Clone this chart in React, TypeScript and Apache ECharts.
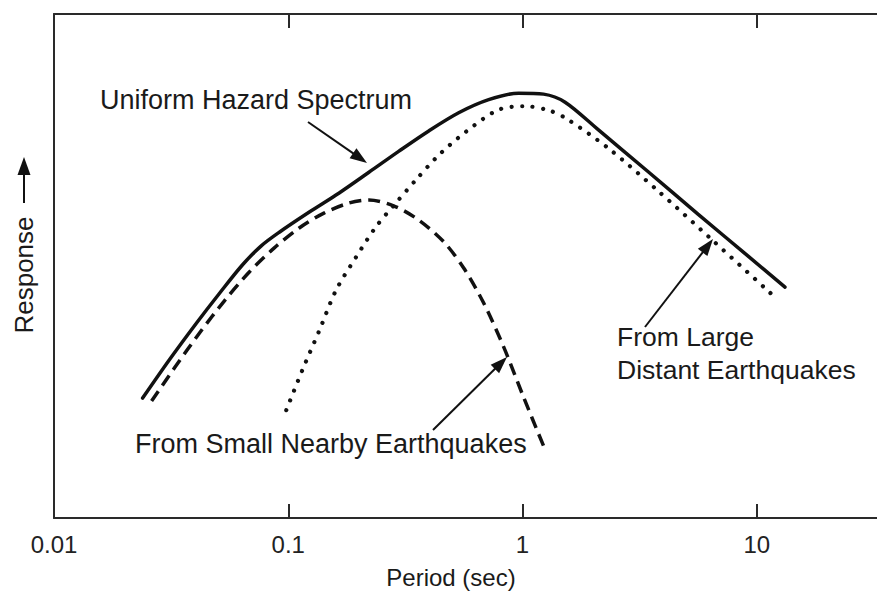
import React, { useEffect, useRef } from "react";
import * as echarts from "echarts";

// Period axis (log) range and tick values
const periodMin = 0.01;
const periodMax = 100;
const tickValues = [0.01, 0.1, 1, 10];

// Uniform Hazard Spectrum (solid)
const uhsPeriod = [0.0239, 0.0312, 0.0406, 0.0509, 0.0637, 0.0767, 0.0916, 0.123, 0.165, 0.221, 0.297, 0.398, 0.534, 0.717, 0.962, 1.23, 1.52, 2.11, 3.44, 5.61, 9.16, 13.2];
const uhsResp = [23.8, 31.5, 38.7, 44.6, 50.2, 54.0, 56.7, 60.7, 64.5, 68.6, 72.8, 76.8, 80.4, 83.0, 84.3, 84.1, 82.5, 77.0, 68.7, 60.3, 52.0, 45.8];

// From Small Nearby Earthquakes (dashed)
const nearPeriod = [0.0261, 0.0327, 0.0418, 0.0534, 0.0682, 0.0872, 0.111, 0.142, 0.182, 0.221, 0.283, 0.361, 0.461, 0.561, 0.682, 0.83, 1.01, 1.23];
const nearResp = [23.2, 29.8, 36.7, 43.1, 48.8, 53.6, 57.5, 60.5, 62.5, 63.1, 61.9, 59.1, 54.8, 49.6, 42.7, 34.0, 24.0, 14.3];

// From Large Distant Earthquakes (dotted)
const farPeriod = [0.0981, 0.115, 0.136, 0.16, 0.195, 0.237, 0.288, 0.351, 0.439, 0.572, 0.79, 1.03, 1.29, 1.52, 2.32, 3.79, 6.37, 11.9];
const farResp = [21.4, 29.4, 37.3, 45.2, 51.8, 57.8, 62.5, 67.1, 72.0, 76.6, 81.0, 81.7, 80.9, 79.4, 73.4, 64.9, 55.4, 43.9];

const FONT = "'Liberation Sans', Arial, Helvetica, sans-serif";
const INK = "#111";
const AXIS = "#2a2a2a";

function zip(xs: number[], ys: number[]) {
  return xs.map((x, i) => [x, ys[i]]);
}

function arrow(x1: number, y1: number, x2: number, y2: number, L = 17, W = 12) {
  const dx = x2 - x1;
  const dy = y2 - y1;
  const len = Math.hypot(dx, dy);
  const ux = dx / len;
  const uy = dy / len;
  const bx = x2 - ux * L;
  const by = y2 - uy * L;
  const nx = -uy;
  const ny = ux;
  return [
    {
      type: "line",
      z: 10,
      shape: { x1, y1, x2: bx + ux * 2, y2: by + uy * 2 },
      style: { stroke: INK, lineWidth: 2 },
    },
    {
      type: "polygon",
      z: 10,
      shape: {
        points: [
          [x2, y2],
          [bx + (nx * W) / 2, by + (ny * W) / 2],
          [bx - (nx * W) / 2, by - (ny * W) / 2],
        ],
      },
      style: { fill: INK },
    },
  ];
}

function label(text: string, x: number, y: number, fontSize = 26, extra: any = {}) {
  return {
    type: "text",
    z: 10,
    x,
    y,
    ...extra,
    style: {
      text,
      fontSize,
      fontFamily: FONT,
      fill: "#1a1a1a",
      align: extra.align || "left",
      verticalAlign: "middle",
    },
  };
}

function fmtTick(v: number) {
  if (v >= 1) return String(Math.round(v));
  return String(+v.toPrecision(1));
}

export default function App() {
  const ref = useRef<HTMLDivElement>(null);

  useEffect(() => {
    if (!ref.current) return;
    const chart = echarts.init(ref.current, null, { renderer: "svg" });

    const xAxisBase = {
      type: "log",
      logBase: 10,
      min: periodMin,
      max: periodMax,
      splitLine: { show: false },
      axisLine: { show: true, lineStyle: { color: AXIS, width: 2 } },
      axisTick: { show: true, inside: true, length: 14, lineStyle: { color: AXIS, width: 2 } },
    };

    chart.setOption({
      animation: false,
      backgroundColor: "#fff",
      grid: { left: 54, top: 14, bottom: 73, right: 0, containLabel: false },
      xAxis: [
        {
          ...xAxisBase,
          position: "bottom",
          axisLabel: {
            show: true,
            fontSize: 24,
            fontFamily: FONT,
            color: "#222",
            margin: 14,
            formatter: (v: number) => (tickValues.some((t) => Math.abs(t - v) / t < 1e-6) ? fmtTick(v) : ""),
          },
        },
        {
          ...xAxisBase,
          position: "top",
          axisLabel: { show: false },
        },
      ],
      yAxis: {
        type: "value",
        min: 0,
        max: 100,
        axisLine: { show: true, lineStyle: { color: AXIS, width: 2 } },
        axisTick: { show: false },
        axisLabel: { show: false },
        splitLine: { show: false },
      },
      series: [
        {
          name: "Uniform Hazard Spectrum",
          type: "line",
          xAxisIndex: 0,
          data: zip(uhsPeriod, uhsResp),
          showSymbol: false,
          symbol: "none",
          smooth: 0.3,
          lineStyle: { color: INK, width: 3.5, cap: "round" },
        },
        {
          name: "From Small Nearby Earthquakes",
          type: "line",
          xAxisIndex: 0,
          data: zip(nearPeriod, nearResp),
          showSymbol: false,
          symbol: "none",
          smooth: 0.3,
          lineStyle: { color: INK, width: 3.5, type: [12, 7] },
        },
        {
          name: "From Large Distant Earthquakes",
          type: "line",
          xAxisIndex: 0,
          data: zip(farPeriod, farResp),
          showSymbol: false,
          symbol: "none",
          smooth: 0.3,
          lineStyle: { color: INK, width: 4.2, type: [0.01, 10.5], cap: "round" },
        },
      ],
      graphic: [
        label("Uniform Hazard Spectrum", 100, 100, 27),
        ...arrow(308, 122, 367, 163),
        label("From Small Nearby Earthquakes", 135, 444, 27),
        ...arrow(433, 430, 507, 357),
        label("From Large", 617, 337, 26.5),
        label("Distant Earthquakes", 617, 370, 26.5),
        ...arrow(645, 327, 713, 239),
        label("Period (sec)", 451, 577, 24, { align: "center" }),
        label("Response", 24, 275, 26, { rotation: Math.PI / 2, align: "center" }),
        ...arrow(24, 203, 24, 157, 18, 13),
      ],
    });

    return () => chart.dispose();
  }, []);

  return (
    <div
      style={{
        position: "absolute",
        left: 0,
        top: 0,
        width: 877,
        height: 591,
        overflow: "hidden",
        background: "#fff",
      }}
    >
      <div ref={ref} style={{ width: 994, height: 591 }} />
    </div>
  );
}
